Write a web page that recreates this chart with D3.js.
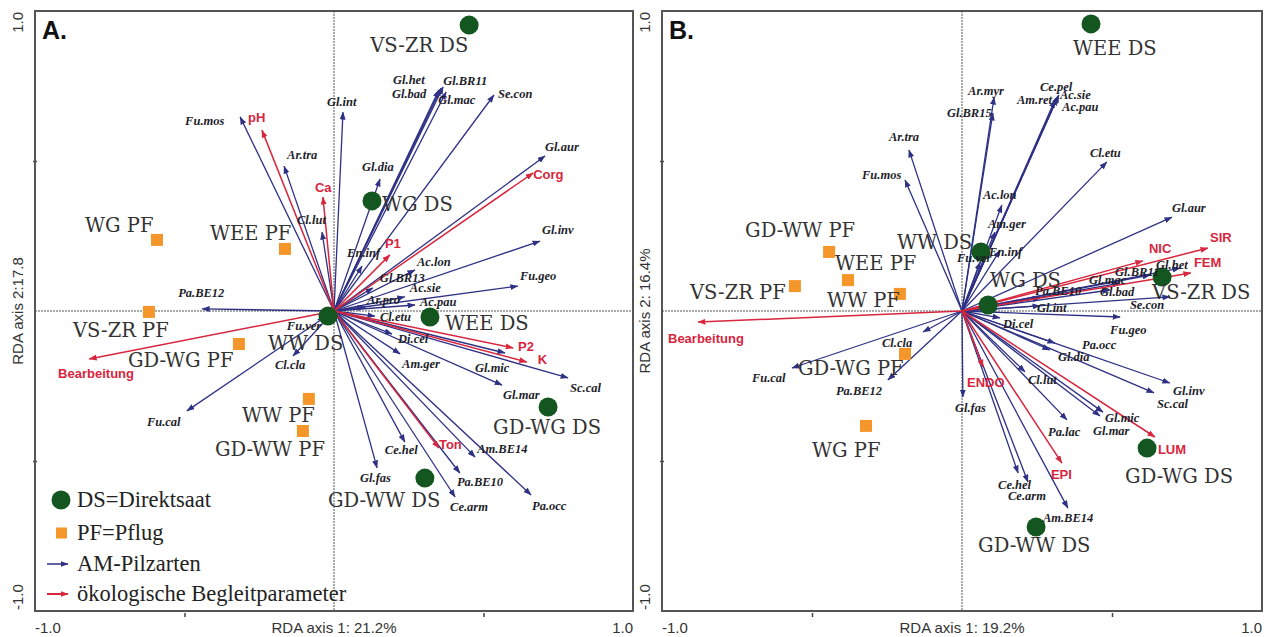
<!DOCTYPE html>
<html><head><meta charset="utf-8">
<script src="https://cdn.jsdelivr.net/npm/d3@7"></script>
<style>body{margin:0;background:#fff}svg{display:block}</style>
</head><body>
<svg id="c" width="1270" height="637"></svg>
<script>
// ---------- DATA ----------
const axisTickLabels = ["-1.0", "1.0"];
const panelTitles = ["A.", "B."];
const xAxisTitles = ["RDA axis 1: 21.2%", "RDA axis 1: 19.2%"];
const yAxisTitles = ["RDA axis 2:17.8", "RDA axis 2: 16.4%"];
const legendItems = ["DS=Direktsaat", "PF=Pflug", "AM-Pilzarten", "ökologische Begleitparameter"];

// Panel A sites [name, type, axis1, axis2]
const sitesA = [
  ["VS-ZR DS","DS",0.452,0.953],["WG DS","DS",0.127,0.367],["WEE DS","DS",0.321,-0.020],
  ["WW DS","DS",-0.020,-0.017],["GD-WG DS","DS",0.716,-0.320],["GD-WW DS","DS",0.304,-0.557],
  ["WG PF","PF",-0.592,0.237],["WEE PF","PF",-0.164,0.207],["VS-ZR PF","PF",-0.619,-0.003],
  ["GD-WG PF","PF",-0.318,-0.110],["WW PF","PF",-0.084,-0.293],["GD-WW PF","PF",-0.104,-0.400]
];
// Panel A species arrows [name, axis1, axis2]
const speciesA = [
  ["Fu.mos",-0.314,0.647],["Ar.tra",-0.167,0.483],["Cl.lut",-0.040,0.263],["Gl.int",0.030,0.663],
  ["Gl.het",0.358,0.743],["Gl.bad",0.351,0.737],["Gl.BR11",0.365,0.747],["Gl.mac",0.375,0.730],
  ["Se.con",0.535,0.720],["Gl.aur",0.706,0.517],["Gl.dia",0.154,0.440],["En.inf",0.094,0.150],
  ["Ac.lon",0.271,0.137],["Gl.BR13",0.130,0.077],["Ac.sie",0.237,0.047],["Ac.pau",0.271,0.020],
  ["Ar.pro",0.104,0.013],["Cl.etu",0.137,-0.017],["Di.cel",0.194,-0.077],["Gl.inv",0.689,0.233],
  ["Fu.geo",0.615,0.083],["Pa.BE12",-0.441,0.007],["Fu.ver",-0.054,-0.030],["Cl.cla",-0.137,-0.150],
  ["Fu.cal",-0.492,-0.333],["Am.ger",0.221,-0.143],["Gl.mic",0.572,-0.140],["Gl.mar",0.562,-0.247],
  ["Sc.cal",0.783,-0.223],["Ce.hel",0.237,-0.437],["Am.BE14",0.472,-0.487],["Pa.BE10",0.421,-0.540],
  ["Gl.fas",0.144,-0.523],["Ce.arm",0.405,-0.620],["Pa.occ",0.659,-0.613]
];
// Panel A environmental arrows
const envA = [
  ["pH",-0.241,0.603],["Ca",-0.037,0.380],["Corg",0.666,0.460],["P1",0.187,0.187],
  ["Bearbeitung",-0.819,-0.160],["P2",0.599,-0.123],["K",0.645,-0.170],["Ton",0.351,-0.457]
];

// Panel B
const sitesB = [
  ["WEE DS","DS",0.430,0.957],["WW DS","DS",0.063,0.197],["WG DS","DS",0.087,0.020],
  ["VS-ZR DS","DS",0.667,0.113],["GD-WG DS","DS",0.617,-0.457],["GD-WW DS","DS",0.247,-0.720],
  ["GD-WW PF","PF",-0.443,0.197],["WEE PF","PF",-0.380,0.103],["VS-ZR PF","PF",-0.557,0.083],
  ["WW PF","PF",-0.207,0.057],["GD-WG PF","PF",-0.190,-0.143],["WG PF","PF",-0.320,-0.383]
];
const speciesB = [
  ["Ar.tra",-0.177,0.537],["Fu.mos",-0.190,0.437],["Ar.myr",0.107,0.713],["Gl.BR15",0.103,0.660],
  ["Ce.pel",0.320,0.717],["Am.ret",0.310,0.703],["Ac.sie",0.323,0.720],["Ac.pau",0.317,0.710],
  ["Cl.etu",0.483,0.497],["Ac.lon",0.133,0.353],["Am.ger",0.110,0.263],["En.inf",0.127,0.203],
  ["Fu.ver",0.060,0.163],["Gl.aur",0.700,0.313],["Gl.het",0.727,0.143],["Gl.BR11",0.627,0.120],
  ["Gl.mac",0.527,0.093],["Gl.bad",0.493,0.070],["Se.con",0.693,0.047],["Pa.BE10",0.260,0.043],
  ["Gl.int",0.260,0.017],["Di.cel",0.127,-0.023],["Fu.geo",0.527,-0.020],["Pa.occ",0.310,-0.107],
  ["Gl.dia",0.293,-0.130],["Gl.inv",0.693,-0.240],["Sc.cal",0.640,-0.273],["Cl.lut",0.210,-0.203],
  ["Gl.fas",0.003,-0.287],["Cl.cla",-0.130,-0.070],["Fu.cal",-0.567,-0.190],["Pa.BE12",-0.247,-0.230],
  ["Pa.lac",0.350,-0.363],["Gl.mic",0.470,-0.337],["Gl.mar",0.460,-0.350],["Ce.hel",0.187,-0.540],
  ["Ce.arm",0.220,-0.570],["Am.BE14",0.353,-0.657]
];
const envB = [
  ["SIR",0.820,0.210],["NIC",0.603,0.167],["FEM",0.763,0.127],["Bearbeitung",-0.880,-0.037],
  ["ENDO",0.070,-0.187],["LUM",0.643,-0.420],["EPI",0.333,-0.507]
];

// ---------- LABEL LAYOUT (pixel offsets of label left/baseline from the mark) ----------
const labelPosA = {
  "VS-ZR DS":[-99,27],"WG DS":[10,10],"WEE DS":[15,13],"WW DS":[-60,34],"GD-WG DS":[-55,27],"GD-WW DS":[-97,29],
  "WG PF":[-72,-8],"WEE PF":[-75,-9],"VS-ZR PF":[-76,25],"GD-WG PF":[-111,23],"WW PF":[-67,23],"GD-WW PF":[-88,25],
  "Fu.mos":[-55,8],"Ar.tra":[3,-7],"Cl.lut":[-25,-8],"Gl.int":[-16,-6],"Gl.het":[-48,-4],"Gl.bad":[-47,8],
  "Gl.BR11":[0,-2],"Gl.mac":[-8,12],"Se.con":[4,3],"Gl.aur":[0,-5],"Gl.dia":[-18,-8],"En.inf":[-15,-9],
  "Ac.lon":[2,-4],"Gl.BR13":[7,-6],"Ac.sie":[5,-5],"Ac.pau":[5,1],"Ar.pro":[2,-3],"Cl.etu":[5,5],"Di.cel":[6,9],
  "Gl.inv":[2,-7],"Fu.geo":[2,-6],"Pa.BE12":[-24,-12],"Fu.ver":[-31,10],"Cl.cla":[-18,13],"Fu.cal":[-40,15],
  "Am.ger":[2,14],"Gl.mic":[-30,19],"Gl.mar":[1,14],"Sc.cal":[2,14],"Ce.hel":[-20,12],"Am.BE14":[2,-4],
  "Pa.BE10":[-3,13],"Gl.fas":[-17,14],"Ce.arm":[-5,14],"Pa.occ":[1,15],
  "pH":[-14,-8],"Ca":[-8,-5],"Corg":[0,6],"P1":[-5,-7],"Bearbeitung":[-31,19],"P2":[5,3],"K":[11,2],"Ton":[0,1]
};
const labelPosB = {
  "WEE DS":[-18,31],"WW DS":[-84,-3],"WG DS":[2,-18],"VS-ZR DS":[-10,22],"GD-WG DS":[-22,35],"GD-WW DS":[-58,25],
  "GD-WW PF":[-84,-15],"WEE PF":[-13,-10],"VS-ZR PF":[-105,13],"WW PF":[-73,13],"GD-WG PF":[-107,21],"WG PF":[-54,31],
  "Ar.tra":[-20,-9],"Fu.mos":[-43,-1],"Ar.myr":[-26,-2],"Gl.BR15":[-46,4],"Ce.pel":[-18,-5],"Am.ret":[-38,4],
  "Ac.sie":[1,4],"Ac.pau":[5,13],"Cl.etu":[-17,-5],"Ac.lon":[-19,-6],"Am.ger":[-7,-4],"En.inf":[-11,6],
  "Fu.ver":[-23,0],"Gl.aur":[0,-5],"Gl.het":[-24,1],"Gl.BR11":[-35,1],"Gl.mac":[-31,1],"Gl.bad":[-10,6],
  "Se.con":[-40,12],"Pa.BE10":[-5,-3],"Gl.int":[-3,6],"Di.cel":[3,10],"Fu.geo":[-10,17],"Pa.occ":[27,6],
  "Gl.dia":[8,11],"Gl.inv":[3,12],"Sc.cal":[3,15],"Cl.lut":[3,12],"Gl.fas":[-8,15],"Cl.cla":[-41,15],
  "Fu.cal":[-40,14],"Pa.BE12":[-52,15],"Pa.lac":[-19,16],"Gl.mic":[2,10],"Gl.mar":[-7,19],"Ce.hel":[-20,16],
  "Ce.arm":[-20,18],"Am.BE14":[-25,14],
  "SIR":[2,-6],"NIC":[6,-8],"FEM":[3,-6],"Bearbeitung":[-30,21],"ENDO":[-16,20],"LUM":[3,17],"EPI":[-11,16]
};

// ---------- STYLE ----------
const BLUE = "#2e3184", RED = "#d7263d", GREEN = "#13561f", ORANGE = "#f4962a";
const svg = d3.select("#c");
const defs = svg.append("defs");
[["hb",BLUE],["hr",RED]].forEach(([id,col])=>{
  defs.append("marker").attr("id",id).attr("viewBox","0 -3 8 6").attr("refX",7.5).attr("refY",0)
    .attr("markerWidth",8).attr("markerHeight",6).attr("markerUnits","userSpaceOnUse").attr("orient","auto")
    .append("path").attr("d","M0,-3L8,0L0,3Z").attr("fill",col);
});

function drawPanel(p) {
  const x = d3.scaleLinear().domain([-1,1]).range([p.x0,p.x1]);
  const y = d3.scaleLinear().domain([-1,1]).range([611,11]);
  const g = svg.append("g");
  // zero lines
  g.append("line").attr("x1",x(0)).attr("x2",x(0)).attr("y1",y(1)).attr("y2",y(-1))
    .attr("stroke","#555").attr("stroke-width",1).attr("stroke-dasharray","2,1");
  g.append("line").attr("x1",x(-1)).attr("x2",x(1)).attr("y1",y(0)).attr("y2",y(0))
    .attr("stroke","#555").attr("stroke-width",1).attr("stroke-dasharray","2,1");
  // axes (ticks at +-0.5 only, labels drawn manually)
  const ax = d3.axisBottom(x).tickValues([-0.5,0.5]).tickSize(4).tickFormat("");
  const ay = d3.axisLeft(y).tickValues([-0.5,0.5]).tickSize(4).tickFormat("");
  const gx = g.append("g").attr("transform",`translate(0,${y(-1)+2})`).call(ax);
  const gy = g.append("g").attr("transform",`translate(${x(-1)+2},0)`).call(ay);
  [gx,gy].forEach(a=>{a.select(".domain").remove(); a.selectAll("line").attr("stroke","#444").attr("stroke-width",1.5);});
  // frame
  g.append("rect").attr("x",x(-1)).attr("y",y(1)).attr("width",x(1)-x(-1)).attr("height",y(-1)-y(1))
    .attr("fill","none").attr("stroke","#555").attr("stroke-width",2);
  // tick labels
  const tl = {"font-family":"Liberation Sans, Arial, sans-serif","font-size":"15px","fill":"#333"};
  const T = (sel,o)=>{for(const k in o) sel.attr(k,o[k]); return sel;};
  T(g.append("text").attr("x",x(-1)).attr("y",633).text(axisTickLabels[0]),tl);
  T(g.append("text").attr("x",x(1)).attr("y",633).attr("text-anchor","end").text(axisTickLabels[1]),tl);
  T(g.append("text").attr("x",x(0)).attr("y",633).attr("text-anchor","middle").text(p.xTitle),tl);
  T(g.append("text").attr("transform",`translate(${x(-1)-12},${y(1)+1}) rotate(-90)`).attr("text-anchor","end").text(axisTickLabels[1]),tl);
  T(g.append("text").attr("transform",`translate(${x(-1)-12},${y(-1)-1}) rotate(-90)`).attr("text-anchor","start").text(axisTickLabels[0]),tl);
  T(g.append("text").attr("transform",`translate(${x(-1)-12},${y(0)}) rotate(-90)`).attr("text-anchor","middle").text(p.yTitle),tl);
  // panel letter
  g.append("text").attr("x",x(-1)+7).attr("y",y(1)+28).text(p.title)
    .attr("font-family","Liberation Sans, Arial, sans-serif").attr("font-weight","bold").attr("font-size","25px").attr("fill","#111");

  const ox = x(0), oy = y(0);
  // species arrows
  g.selectAll(".sp").data(p.species).join("line")
    .attr("x1",ox).attr("y1",oy).attr("x2",d=>x(d[1])).attr("y2",d=>y(d[2]))
    .attr("stroke",BLUE).attr("stroke-width",1.3).attr("marker-end","url(#hb)");
  g.selectAll(".ev").data(p.env).join("line")
    .attr("x1",ox).attr("y1",oy).attr("x2",d=>x(d[1])).attr("y2",d=>y(d[2]))
    .attr("stroke",RED).attr("stroke-width",1.5).attr("marker-end","url(#hr)");
  // sites
  const ds = p.sites.filter(d=>d[1]==="DS"), pf = p.sites.filter(d=>d[1]==="PF");
  g.selectAll(".pf").data(pf).join("rect")
    .attr("x",d=>x(d[2])-6).attr("y",d=>y(d[3])-6).attr("width",12).attr("height",12).attr("fill",ORANGE);
  g.selectAll(".ds").data(ds).join("circle")
    .attr("cx",d=>x(d[2])).attr("cy",d=>y(d[3])).attr("r",9.5).attr("fill",GREEN);
  // labels
  const L = p.labels;
  g.selectAll(".spl").data(p.species).join("text")
    .attr("x",d=>x(d[1])+L[d[0]][0]).attr("y",d=>y(d[2])+L[d[0]][1]).text(d=>d[0])
    .attr("font-family","Liberation Serif, Times New Roman, serif").attr("font-style","italic")
    .attr("font-weight","bold").attr("font-size","12.5px").attr("fill","#1e1e2a");
  g.selectAll(".evl").data(p.env).join("text")
    .attr("x",d=>x(d[1])+L[d[0]][0]).attr("y",d=>y(d[2])+L[d[0]][1]).text(d=>d[0])
    .attr("font-family","Liberation Sans, Arial, sans-serif").attr("font-weight","bold")
    .attr("font-size","13px").attr("fill",RED);
  g.selectAll(".sl").data(p.sites).join("text")
    .attr("x",d=>x(d[2])+L[d[0]][0]).attr("y",d=>y(d[3])+L[d[0]][1]).text(d=>d[0])
    .attr("font-family","DejaVu Serif, serif").attr("font-size","19.5px").attr("fill","#333");
  return {x,y,g};
}

const A = drawPanel({x0:35,x1:633,title:panelTitles[0],xTitle:xAxisTitles[0],yTitle:yAxisTitles[0],
  sites:sitesA,species:speciesA,env:envA,labels:labelPosA});
drawPanel({x0:662,x1:1262,title:panelTitles[1],xTitle:xAxisTitles[1],yTitle:yAxisTitles[1],
  sites:sitesB,species:speciesB,env:envB,labels:labelPosB});

// legend (panel A)
const lg = A.g.append("g");
const lf = {"font-family":"Liberation Serif, Times New Roman, serif","font-size":"22.5px","fill":"#222"};
const rows = [500,533,564,594];
lg.append("circle").attr("cx",61).attr("cy",rows[0]).attr("r",9.5).attr("fill",GREEN);
lg.append("rect").attr("x",56).attr("y",rows[1]-5.5).attr("width",11).attr("height",11).attr("fill",ORANGE);
lg.append("line").attr("x1",47).attr("x2",68).attr("y1",rows[2]).attr("y2",rows[2]).attr("stroke",BLUE).attr("stroke-width",1.5).attr("marker-end","url(#hb)");
lg.append("line").attr("x1",47).attr("x2",68).attr("y1",rows[3]).attr("y2",rows[3]).attr("stroke",RED).attr("stroke-width",2).attr("marker-end","url(#hr)");
legendItems.forEach((t,i)=>{
  const s = lg.append("text").attr("x",77).attr("y",rows[i]+7).text(t);
  for (const k in lf) s.attr(k,lf[k]);
});
</script>
</body></html>
